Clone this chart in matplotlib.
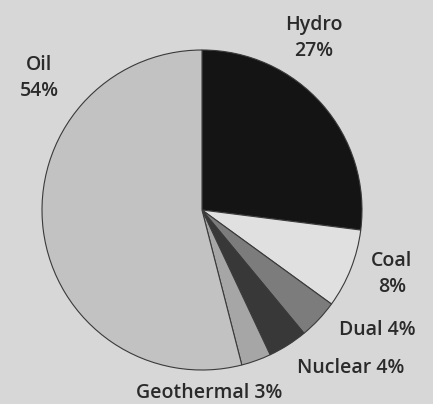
import matplotlib.pyplot as plt

# === DATA ===
sources = ["Hydro", "Coal", "Dual", "Nuclear", "Geothermal", "Oil"]
shares = [27, 8, 4, 4, 3, 54]
colors = ["#141414", "#e0e0e0", "#7c7c7c", "#383838", "#a6a6a6", "#c2c2c2"]

# label anchors in pixel space (x from left, y from top), and line breaks
label_xy = [(314, 38), (392, 274), (377, 330), (351, 368), (209, 393), (39, 78)]
two_line = [True, True, False, False, False, True]

W, H = 433, 404
fig = plt.figure(figsize=(W / 100, H / 100), dpi=100)
fig.patch.set_facecolor("#d7d7d7")
ax = fig.add_axes([0, 0, 1, 1])

ax.pie(shares, colors=colors, startangle=90, counterclock=False,
       center=(202, H - 210), radius=160,
       wedgeprops=dict(edgecolor="#3a3a3a", linewidth=0.8))

# pie() resets the limits, so set pixel space afterwards
ax.set_xlim(0, W)
ax.set_ylim(0, H)
ax.set_aspect("equal")
ax.axis("off")

for name, val, (x, y), tl in zip(sources, shares, label_xy, two_line):
    txt = f"{name}\n{val}%" if tl else f"{name} {val}%"
    ax.text(x, H - y, txt, ha="center", va="center", fontsize=14,
            family="Open Sans", fontweight="semibold", color="#2a2a2a",
            linespacing=1.35)

fig.savefig("out.png", dpi=100, facecolor=fig.get_facecolor())
